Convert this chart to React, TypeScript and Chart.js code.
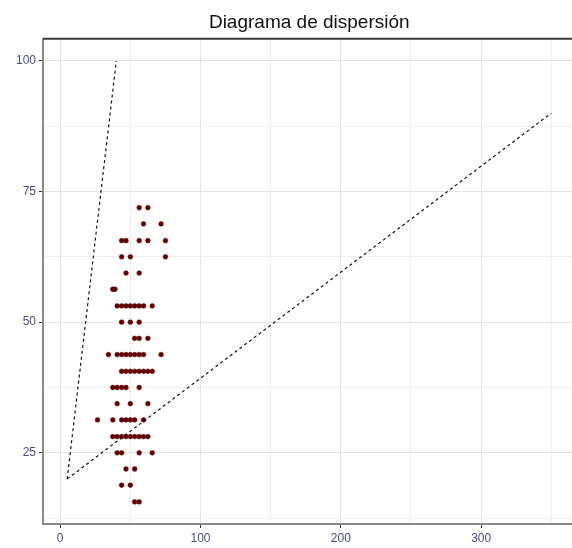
import React, { useEffect, useRef } from 'react';
import { Chart, registerables } from 'chart.js';

Chart.register(...registerables);

const TITLE = 'Diagrama de dispersión';
const X_TICKS = [0, 100, 200, 300];
const Y_TICKS = [25, 50, 75, 100];
const X_LIMITS = [-12.25, 367.25];
const Y_LIMITS = [11.38, 104.22];

const LINE_A_X = [5, 40];
const LINE_A_Y = [20, 100];
const LINE_B_X = [5, 350];
const LINE_B_Y = [20, 90];

const POINT_X = [
  56.3, 62.5,
  59.4, 71.9,
  43.8, 46.9, 56.3, 62.5, 75,
  43.8, 50, 75,
  46.9, 56.3,
  37.5, 39,
  40.6, 43.8, 46.9, 50, 53.1, 56.3, 59.4, 65.6,
  43.8, 50, 56.3,
  53.1, 56.3, 62.5,
  34.4, 40.6, 43.8, 46.9, 50, 53.1, 56.3, 59.4, 71.9,
  43.8, 46.9, 50, 53.1, 56.3, 59.4, 62.5, 65.6,
  37.5, 40.6, 43.8, 46.9, 56.3,
  40.6, 50, 62.5,
  26.6, 37.5, 43.8, 46.9, 50, 53.1, 59.4,
  37.5, 40.6, 43.8, 46.9, 50, 53.1, 56.3, 59.4, 62.5,
  40.6, 43.8, 56.3, 65.6,
  46.9, 53.1,
  43.8, 50,
  53.1, 56.3,
];
const POINT_Y = [
  71.9, 71.9,
  68.8, 68.8,
  65.6, 65.6, 65.6, 65.6, 65.6,
  62.5, 62.5, 62.5,
  59.4, 59.4,
  56.3, 56.3,
  53.1, 53.1, 53.1, 53.1, 53.1, 53.1, 53.1, 53.1,
  50, 50, 50,
  46.9, 46.9, 46.9,
  43.8, 43.8, 43.8, 43.8, 43.8, 43.8, 43.8, 43.8, 43.8,
  40.6, 40.6, 40.6, 40.6, 40.6, 40.6, 40.6, 40.6,
  37.5, 37.5, 37.5, 37.5, 37.5,
  34.4, 34.4, 34.4,
  31.3, 31.3, 31.3, 31.3, 31.3, 31.3, 31.3,
  28.1, 28.1, 28.1, 28.1, 28.1, 28.1, 28.1, 28.1, 28.1,
  25, 25, 25, 25,
  21.9, 21.9,
  18.8, 18.8,
  15.6, 15.6,
];

const FONT = "'Liberation Sans', Arial, sans-serif";
const TICK_COLOR = '#4b4b86';

const topBorder = {
  id: 'topBorder',
  afterDraw(chart: any) {
    const { ctx, chartArea } = chart;
    ctx.save();
    ctx.strokeStyle = '#3a3a3a';
    ctx.lineWidth = 2;
    ctx.beginPath();
    ctx.moveTo(chartArea.left, chartArea.top);
    ctx.lineTo(chartArea.right, chartArea.top);
    ctx.stroke();
    ctx.restore();
  },
};

export default function App() {
  const ref = useRef<HTMLCanvasElement | null>(null);

  useEffect(() => {
    if (!ref.current) return;
    const zip = (xs: number[], ys: number[]) => xs.map((x, i) => ({ x, y: ys[i] }));
    const chart = new Chart(ref.current, {
      type: 'scatter',
      data: {
        datasets: [
          {
            data: zip(LINE_A_X, LINE_A_Y),
            showLine: true,
            borderColor: '#111',
            borderWidth: 1.2,
            borderDash: [3, 3],
            pointRadius: 0,
          },
          {
            data: zip(LINE_B_X, LINE_B_Y),
            showLine: true,
            borderColor: '#111',
            borderWidth: 1.2,
            borderDash: [3, 3],
            pointRadius: 0,
          },
          {
            data: zip(POINT_X, POINT_Y),
            pointRadius: 2.4,
            pointBackgroundColor: '#640000',
            pointBorderColor: '#640000',
            pointBorderWidth: 0.5,
          },
        ],
      },
      plugins: [topBorder],
      options: {
        animation: false,
        responsive: false,
        devicePixelRatio: 1,
        layout: { padding: { left: 0, right: 1, top: 0, bottom: 0 } },
        plugins: {
          legend: { display: false },
          tooltip: { enabled: false },
          title: {
            display: true,
            text: TITLE,
            fullSize: false,
            color: '#111',
            font: { family: FONT, size: 19, weight: 'normal', lineHeight: 1.2 },
            padding: { top: 11, bottom: 5 },
          },
        },
        scales: {
          x: {
            type: 'linear',
            min: X_LIMITS[0],
            max: X_LIMITS[1],
            afterFit: (s: any) => { s.height = 24; },
            ticks: {
              stepSize: 50,
              includeBounds: false,
              autoSkip: false,
              maxRotation: 0,
              padding: 3,
              color: TICK_COLOR,
              font: { family: FONT, size: 12 },
              callback: (v: any) => (X_TICKS.includes(Number(v)) ? String(v) : ''),
            },
            grid: {
              color: (c: any) => (X_TICKS.includes(c.tick?.value) ? '#e4e4e4' : '#efefef'),
              lineWidth: 1,
              tickLength: 4,
              tickColor: (c: any) => (X_TICKS.includes(c.tick?.value) ? '#333' : 'rgba(0,0,0,0)'),
            },
            border: { color: '#8a8a8a', width: 2 },
          },
          y: {
            type: 'linear',
            min: Y_LIMITS[0],
            max: Y_LIMITS[1],
            afterFit: (s: any) => { s.width = 43; },
            ticks: {
              stepSize: 12.5,
              includeBounds: false,
              autoSkip: false,
              padding: 3,
              color: TICK_COLOR,
              font: { family: FONT, size: 12 },
              callback: (v: any) => (Y_TICKS.includes(Number(v)) ? String(v) : ''),
            },
            grid: {
              color: (c: any) => (Y_TICKS.includes(c.tick?.value) ? '#e4e4e4' : '#efefef'),
              lineWidth: 1,
              tickLength: 4,
              tickColor: (c: any) => (Y_TICKS.includes(c.tick?.value) ? '#333' : 'rgba(0,0,0,0)'),
            },
            border: { color: '#8a8a8a', width: 2 },
          },
        },
      },
    } as any);
    return () => chart.destroy();
  }, []);

  return (
    <div
      style={{
        position: 'fixed',
        left: 0,
        top: 0,
        width: 572,
        height: 548,
        overflow: 'hidden',
        background: '#fff',
      }}
    >
      <canvas ref={ref} width={580} height={548} style={{ display: 'block' }} />
    </div>
  );
}
